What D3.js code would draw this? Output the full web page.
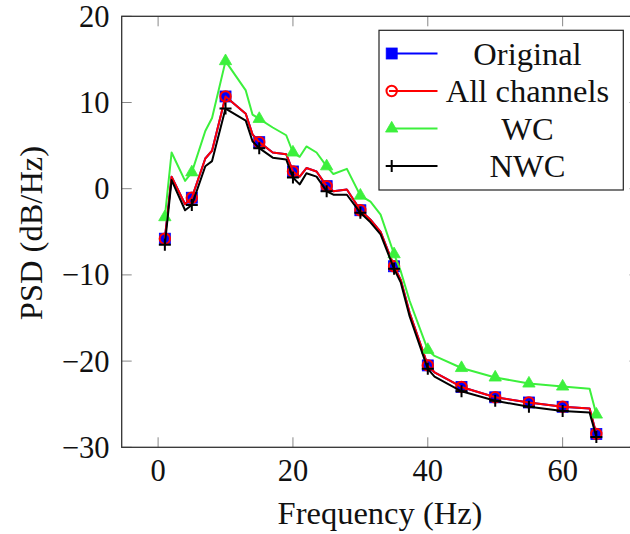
<!DOCTYPE html>
<html>
  <head>
    <meta charset="utf-8">
    <title>PSD</title>
    <style>
      body { margin: 0; background: #fff; }
      svg { display: block; }
      text { font-family: "Liberation Serif", "Times New Roman", serif; fill: #111; }
    </style>
  </head>
  <body>
    <div id="chart"></div>
    <script src="https://d3js.org/d3.v7.min.js"></script>
    <script>
    // frequencies of the PSD bins (Hz)
    var freq = [1, 2, 4, 5, 7, 8, 10, 13, 14, 15, 17, 19, 20, 21, 22, 23.5, 25, 26, 28,
                30, 31.5, 33, 35, 36, 37.3, 40, 41, 45, 50, 55, 60, 64, 65];
    var markFreq = [1, 5, 10, 15, 20, 25, 30, 35, 40, 45, 50, 55, 60, 65];

    var original = [-5.8, 1.4, -1.8, -1.05, 3.5, 4.4, 10.7, 8.7, 6.3, 5.4, 4.2, 4.0, 2.0, 1.4, 2.4, 2.0, 0.3, -0.3, -0.1,
                    -2.5, -3.6, -5.0, -9.0, -10.6, -14.4, -20.5, -21.3, -23.0, -24.2, -24.8, -25.3, -25.5, -28.45];
    var allChannels = [-5.8, 1.4, -1.8, -1.05, 3.5, 4.4, 10.7, 8.7, 6.3, 5.4, 4.2, 4.0, 2.0, 1.4, 2.4, 2.0, 0.3, -0.3, -0.1,
                       -2.5, -3.6, -5.0, -9.0, -10.6, -14.4, -20.5, -21.3, -23.0, -24.2, -24.8, -25.3, -25.5, -28.45];
    var wc = [-3.3, 4.2, 0.9, 1.9, 6.7, 8.2, 14.8, 11.4, 8.6, 8.1, 7.1, 6.2, 4.2, 3.7, 4.9, 4.2, 2.6, 1.7, 2.3,
              -0.8, -1.5, -3.0, -7.6, -9.6, -13.0, -18.7, -19.4, -20.8, -21.9, -22.6, -22.95, -23.2, -26.2];
    var nwc = [-6.5, 1.0, -2.5, -1.9, 2.6, 3.2, 9.3, 7.9, 5.5, 4.7, 3.6, 3.4, 1.3, 0.5, 1.8, 1.4, -0.3, -0.7, -0.7,
               -2.8, -3.9, -5.3, -9.3, -10.9, -14.8, -20.9, -21.8, -23.5, -24.6, -25.3, -25.8, -25.95, -28.8];

    var xTicks = [0, 20, 40, 60];
    var yTicks = [-30, -20, -10, 0, 10, 20];
    var labels = ['Original', 'All channels', 'WC', 'NWC'];

    var width = 630, height = 534;
    var green = '#3cf03c';

    var series = [
      { name: labels[0], values: original, color: '#0000ff', mark: 'square' },
      { name: labels[1], values: allChannels, color: '#ff0000', mark: 'circle' },
      { name: labels[2], values: wc, color: green, mark: 'triangle' },
      { name: labels[3], values: nwc, color: '#000000', mark: 'plus' }
    ];

    var svg = d3.select('#chart').append('svg')
      .attr('width', width).attr('height', height);

    var x = d3.scaleLinear().domain([-5.4, 71.4]).range([121.7, 639.5]);
    var y = d3.scaleLinear().domain([-30, 20]).range([447.3, 16.3]);

    var x0 = x.range()[0], x1 = x.range()[1];
    var y0 = y.range()[0], y1 = y.range()[1];
    var tickLen = 10;

    // ticks, inside on all four sides
    var ticks = svg.append('g').attr('stroke', '#888').attr('stroke-width', 1);
    xTicks.forEach(function(t) {
      ticks.append('line').attr('x1', x(t)).attr('x2', x(t)).attr('y1', y0).attr('y2', y0 - tickLen);
      ticks.append('line').attr('x1', x(t)).attr('x2', x(t)).attr('y1', y1).attr('y2', y1 + tickLen);
    });
    yTicks.forEach(function(t) {
      ticks.append('line').attr('x1', x0).attr('x2', x0 + tickLen).attr('y1', y(t)).attr('y2', y(t));
      ticks.append('line').attr('x1', x1).attr('x2', x1 - tickLen).attr('y1', y(t)).attr('y2', y(t));
    });

    svg.append('rect')
      .attr('x', x0).attr('y', y1)
      .attr('width', x1 - x0).attr('height', y0 - y1)
      .attr('fill', 'none').attr('stroke', '#333').attr('stroke-width', 1.3);

    // tick labels
    svg.append('g').selectAll('text').data(xTicks).enter().append('text')
      .attr('x', function(d) { return x(d); })
      .attr('y', 481)
      .attr('text-anchor', 'middle')
      .style('font-size', '30.5px')
      .text(function(d) { return d < 0 ? '\u2212' + (-d) : d; });

    svg.append('g').selectAll('text').data(yTicks).enter().append('text')
      .attr('x', 109.5)
      .attr('y', function(d) { return y(d) + 10.5; })
      .attr('text-anchor', 'end')
      .style('font-size', '30.5px')
      .text(function(d) { return d < 0 ? '\u2212' + (-d) : d; });

    // axis titles
    svg.append('text')
      .attr('x', 380).attr('y', 524)
      .attr('text-anchor', 'middle')
      .style('font-size', '32.5px')
      .text('Frequency (Hz)');

    svg.append('text')
      .attr('transform', 'translate(42,233) rotate(-90)')
      .attr('text-anchor', 'middle')
      .style('font-size', '32.5px')
      .text('PSD (dB/Hz)');

    // markers
    function drawMark(g, type, cx, cy, color) {
      if (type === 'square') {
        g.append('rect').attr('x', cx - 5.5).attr('y', cy - 5.5).attr('width', 11).attr('height', 11)
          .attr('fill', color).attr('stroke', color).attr('stroke-width', 0.8);
      } else if (type === 'circle') {
        g.append('circle').attr('cx', cx).attr('cy', cy).attr('r', 5.2)
          .attr('fill', 'none').attr('stroke', color).attr('stroke-width', 2);
      } else if (type === 'triangle') {
        var s = d3.symbol().type(d3.symbolTriangle).size(66);
        g.append('path').attr('d', s()).attr('transform', 'translate(' + cx + ',' + cy + ')')
          .attr('fill', color).attr('stroke', color).attr('stroke-width', 0.8);
      } else {
        g.append('path')
          .attr('d', 'M' + (cx - 6) + ',' + cy + 'H' + (cx + 6) + 'M' + cx + ',' + (cy - 6) + 'V' + (cy + 6))
          .attr('stroke', color).attr('stroke-width', 2).attr('fill', 'none');
      }
    }

    var plot = svg.append('g');
    var line = d3.line()
      .x(function(d) { return x(d[0]); })
      .y(function(d) { return y(d[1]); });

    series.forEach(function(s) {
      var pts = freq.map(function(f, i) { return [f, s.values[i]]; });
      var g = plot.append('g');
      g.append('path')
        .attr('d', line(pts))
        .attr('fill', 'none')
        .attr('stroke', s.color)
        .attr('stroke-width', 2)
        .attr('stroke-linejoin', 'round');
      pts.filter(function(p) { return markFreq.indexOf(p[0]) >= 0; }).forEach(function(p) {
        drawMark(g, s.mark, x(p[0]), y(p[1]), s.color);
      });
    });

    // legend
    var legend = svg.append('g').attr('class', 'legend');
    legend.append('rect')
      .attr('x', 379).attr('y', 30.3).attr('width', 244.3).attr('height', 159.7)
      .attr('fill', '#fff').attr('stroke', '#222').attr('stroke-width', 1.2);

    series.forEach(function(s, i) {
      var ly = 53.5 + i * 37.5;
      legend.append('line')
        .attr('x1', 389).attr('x2', 437.5).attr('y1', ly).attr('y2', ly)
        .attr('stroke', s.color).attr('stroke-width', 2);
      drawMark(legend, s.mark, 391.7, ly, s.color);
      legend.append('text')
        .attr('x', 527.5).attr('y', ly + 11)
        .attr('text-anchor', 'middle')
        .style('font-size', '32.5px')
        .text(s.name);
    });
    </script>
  </body>
</html>
